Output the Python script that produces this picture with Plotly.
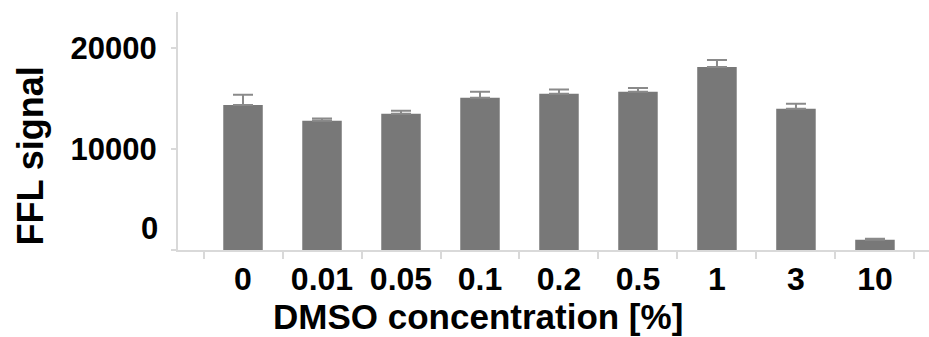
import plotly.graph_objects as go

# DMSO tolerance: firefly luciferase signal per concentration
concentrations = ["0", "0.01", "0.05", "0.1", "0.2", "0.5", "1", "3", "10"]
ffl_signal = [14360, 12780, 13480, 15060, 15450, 15650, 18120, 13970, 1020]
ffl_error = [990, 230, 300, 590, 425, 370, 690, 495, 100]

y_ticks = [0, 10000, 20000]
y_tick_text = ["", "10000", "20000"]

FONT = "Liberation Sans, Arial, sans-serif"
AXIS_GREY = "#d9d9d9"

fig = go.Figure()
fig.add_trace(go.Bar(
    x=concentrations,
    y=ffl_signal,
    width=0.5,
    marker=dict(color="#787878", line=dict(width=0)),
    error_y=dict(
        type="data",
        symmetric=False,
        array=ffl_error,
        arrayminus=[0] * len(ffl_error),
        color="#8a8a8a",
        thickness=2,
        width=10,
    ),
))

fig.update_layout(
    width=929,
    height=337,
    margin=dict(l=178, r=0, t=12, b=87),
    paper_bgcolor="white",
    plot_bgcolor="white",
    showlegend=False,
    font=dict(family=FONT, color="black"),
    xaxis=dict(
        type="category",
        range=[-0.823, 8.684],
        tickson="boundaries",
        ticks="outside",
        ticklen=7,
        tickwidth=1.5,
        tickcolor=AXIS_GREY,
        showline=True,
        linecolor=AXIS_GREY,
        linewidth=2,
        showgrid=False,
        zeroline=False,
        tickfont=dict(family=FONT, size=32, color="black", weight="bold"),
    ),
    yaxis=dict(
        range=[0, 23550],
        tickvals=y_ticks,
        ticktext=y_tick_text,
        ticks="outside",
        ticklen=5,
        tickwidth=1.5,
        tickcolor=AXIS_GREY,
        showline=True,
        linecolor=AXIS_GREY,
        linewidth=2,
        showgrid=False,
        zeroline=False,
        tickfont=dict(family=FONT, size=31, color="black", weight="bold"),
        ticklabelstandoff=8,
    ),
    annotations=[
        # zero label sits a little above its tick
        dict(
            text="0", x=0, xref="paper", y=0, yref="y",
            xanchor="right", yanchor="middle", xshift=-18, yshift=22,
            showarrow=False,
            font=dict(family=FONT, size=31, color="black", weight="bold"),
        ),
        dict(
            text="FFL signal", x=-0.196, xref="paper", y=0.396, yref="paper",
            xanchor="center", yanchor="middle", textangle=-90,
            showarrow=False,
            font=dict(family=FONT, size=36, color="black", weight="bold"),
        ),
        dict(
            text="DMSO concentration [%]", x=0.399, xref="paper", y=-0.28,
            yref="paper", xanchor="center", yanchor="middle",
            showarrow=False,
            font=dict(family=FONT, size=35, color="black", weight="bold"),
        ),
    ],
)

fig.write_html("out.html")
